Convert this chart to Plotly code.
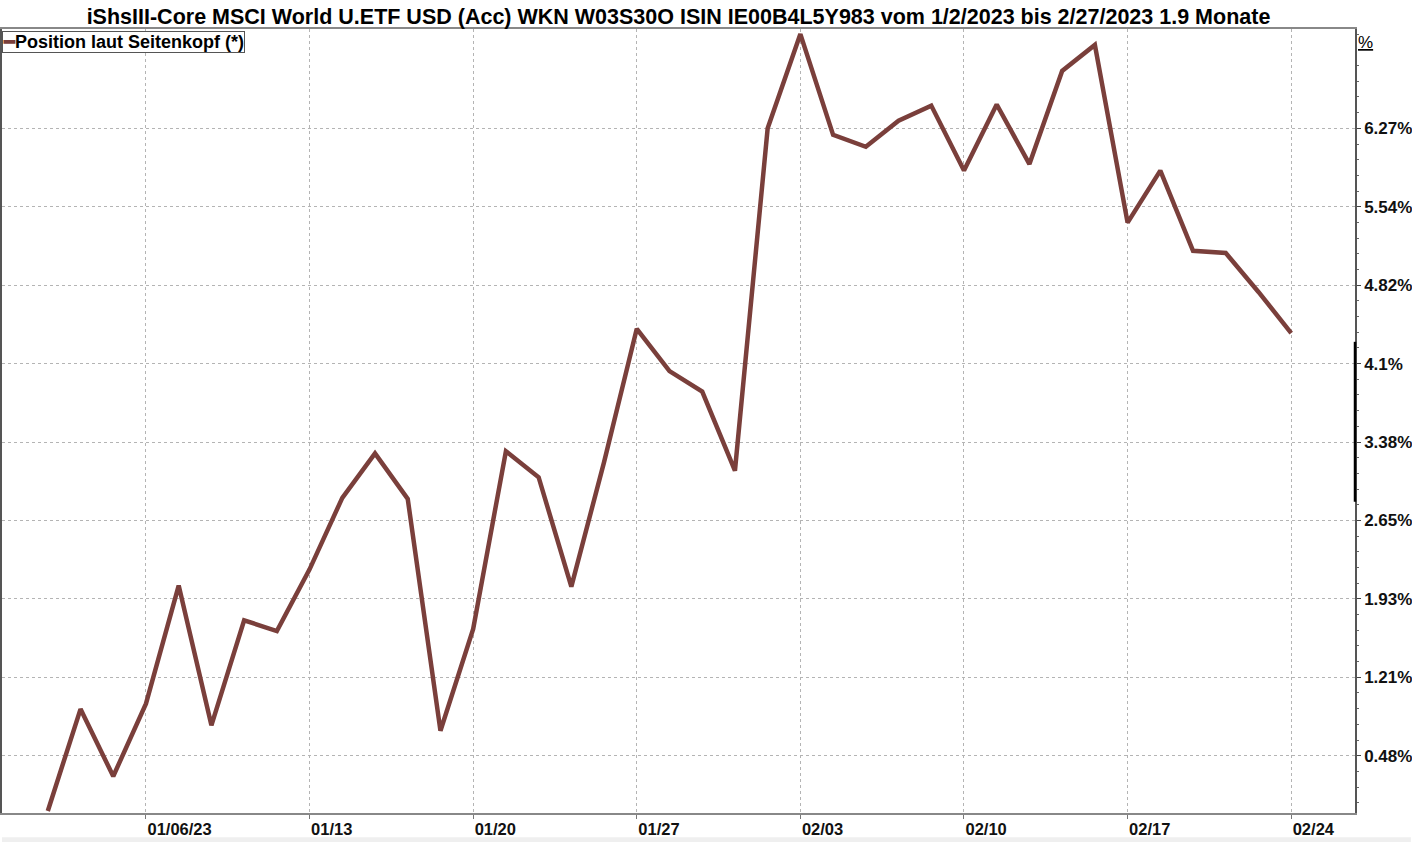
import plotly.graph_objects as go

# ---- data ----
dates = [
    "01/03", "01/04", "01/05", "01/06",
    "01/09", "01/10", "01/11", "01/12", "01/13",
    "01/16", "01/17", "01/18", "01/19", "01/20",
    "01/23", "01/24", "01/25", "01/26", "01/27",
    "01/30", "01/31", "02/01", "02/02", "02/03",
    "02/06", "02/07", "02/08", "02/09", "02/10",
    "02/13", "02/14", "02/15", "02/16", "02/17",
    "02/20", "02/21", "02/22", "02/23", "02/24",
]
values = [
    -0.03, 0.91, 0.29, 0.96,
    2.05, 0.76, 1.73, 1.63, 2.20,
    2.86, 3.27, 2.85, 0.71, 1.65,
    3.29, 3.05, 2.04, 3.19, 4.42,
    4.03, 3.84, 3.11, 6.27, 7.14,
    6.21, 6.10, 6.34, 6.48, 5.88,
    6.49, 5.94, 6.80, 7.04, 5.40,
    5.88, 5.14, 5.12, 4.76, 4.38,
]
x_tick_dates = ["01/06", "01/13", "01/20", "01/27", "02/03", "02/10", "02/17", "02/24"]
x_tick_labels = ["01/06/23", "01/13", "01/20", "01/27", "02/03", "02/10", "02/17", "02/24"]
y_tick_labels = ["0.48%", "1.21%", "1.93%", "2.65%", "3.38%", "4.1%", "4.82%", "5.54%", "6.27%"]
y_tick_base = 0.48
y_tick_step = 0.72375

title_text = ("iShsIII-Core MSCI World U.ETF USD (Acc) WKN W03S30O ISIN IE00B4L5Y983 "
              "vom 1/2/2023 bis 2/27/2023 1.9 Monate")
series_name = "Position laut Seitenkopf (*)"
line_color = "#7a3f3b"

# ---- derived ----
xs = list(range(len(dates)))
x_tickvals = [dates.index(d) for d in x_tick_dates]
y_tickvals = [y_tick_base + i * y_tick_step for i in range(len(y_tick_labels))]
minor_vals = []
for i in range(-1, len(y_tick_labels) + 1):
    for j in range(1, 5):
        v = y_tick_base + i * y_tick_step + j * y_tick_step / 5
        if -0.049 < v < 7.187:
            minor_vals.append(v)

font_family = "Liberation Sans, Arial, sans-serif"

fig = go.Figure()
fig.add_trace(go.Scatter(
    x=xs, y=values, mode="lines", name=series_name,
    line=dict(color=line_color, width=4.5),
    showlegend=False,
))

fig.update_layout(
    width=1412, height=842,
    margin=dict(l=0, r=56, t=29, b=29),
    paper_bgcolor="white", plot_bgcolor="white",
    font=dict(family=font_family, color="black"),
    title=dict(
        text="<b>" + title_text + "</b>",
        x=0.5, xref="paper", xanchor="center",
        y=1 - 16 / 842, yref="container", yanchor="middle",
        font=dict(size=21.5, family=font_family, color="black"),
    ),
    xaxis=dict(
        range=[-1.40, 39.95],
        tickmode="array", tickvals=x_tickvals,
        ticktext=["<b>%s</b>" % t for t in x_tick_labels],
        ticklabelposition="outside right",
        tickfont=dict(size=16.5, family=font_family, color="#111"),
        ticks="outside", ticklen=4, tickcolor="#777",
        showgrid=True, gridcolor="#b4b4b4", griddash="dot", gridwidth=1,
        showline=True, linecolor="#888", linewidth=2, mirror=True,
        zeroline=False,
    ),
    yaxis=dict(
        side="right",
        range=[-0.049, 7.187],
        tickmode="array", tickvals=y_tickvals,
        ticktext=["<b>%s</b>" % t for t in y_tick_labels],
        tickfont=dict(size=17, family=font_family, color="#111"),
        ticks="outside", ticklen=4, tickcolor="#444",
        minor=dict(tickmode="array", tickvals=minor_vals, ticks="outside",
                   ticklen=2, tickcolor="#666", showgrid=False),
        showgrid=True, gridcolor="#b4b4b4", griddash="dot", gridwidth=1,
        showline=True, linecolor="#555", linewidth=1.5, mirror=True,
        zeroline=False,
    ),
)

# legend as boxed annotation
fig.add_annotation(
    xref="paper", yref="paper", x=0, y=1 - 2 / 784,
    xanchor="left", yanchor="top",
    text="<b><span style='color:%s'>━</span>%s</b>" % (line_color, series_name),
    showarrow=False, align="left",
    font=dict(size=18, family=font_family, color="black"),
    bordercolor="#555", borderwidth=1, borderpad=0, bgcolor="white",
)

# "%" unit label at top of right axis
fig.add_annotation(
    xref="paper", yref="paper", x=1, y=1 - 2 / 784,
    xanchor="left", yanchor="top", xshift=1,
    text="<u>%</u>", showarrow=False,
    font=dict(size=17, family=font_family, color="black"),
)

# darker segment on right axis
fig.add_shape(type="line", xref="paper", yref="paper",
              x0=1, x1=1, y0=0.397, y1=0.601,
              line=dict(color="black", width=2.5))

# bottom window strip
fig.add_shape(type="rect", xref="paper", yref="paper",
              x0=0, x1=1412 / 1356, y0=-0.031, y1=-0.05,
              fillcolor="#efefef", line=dict(width=0), layer="below")

fig.write_html("out.html", config={"displayModeBar": False},
               post_script="document.body.style.margin='0';document.body.style.padding='0';")
